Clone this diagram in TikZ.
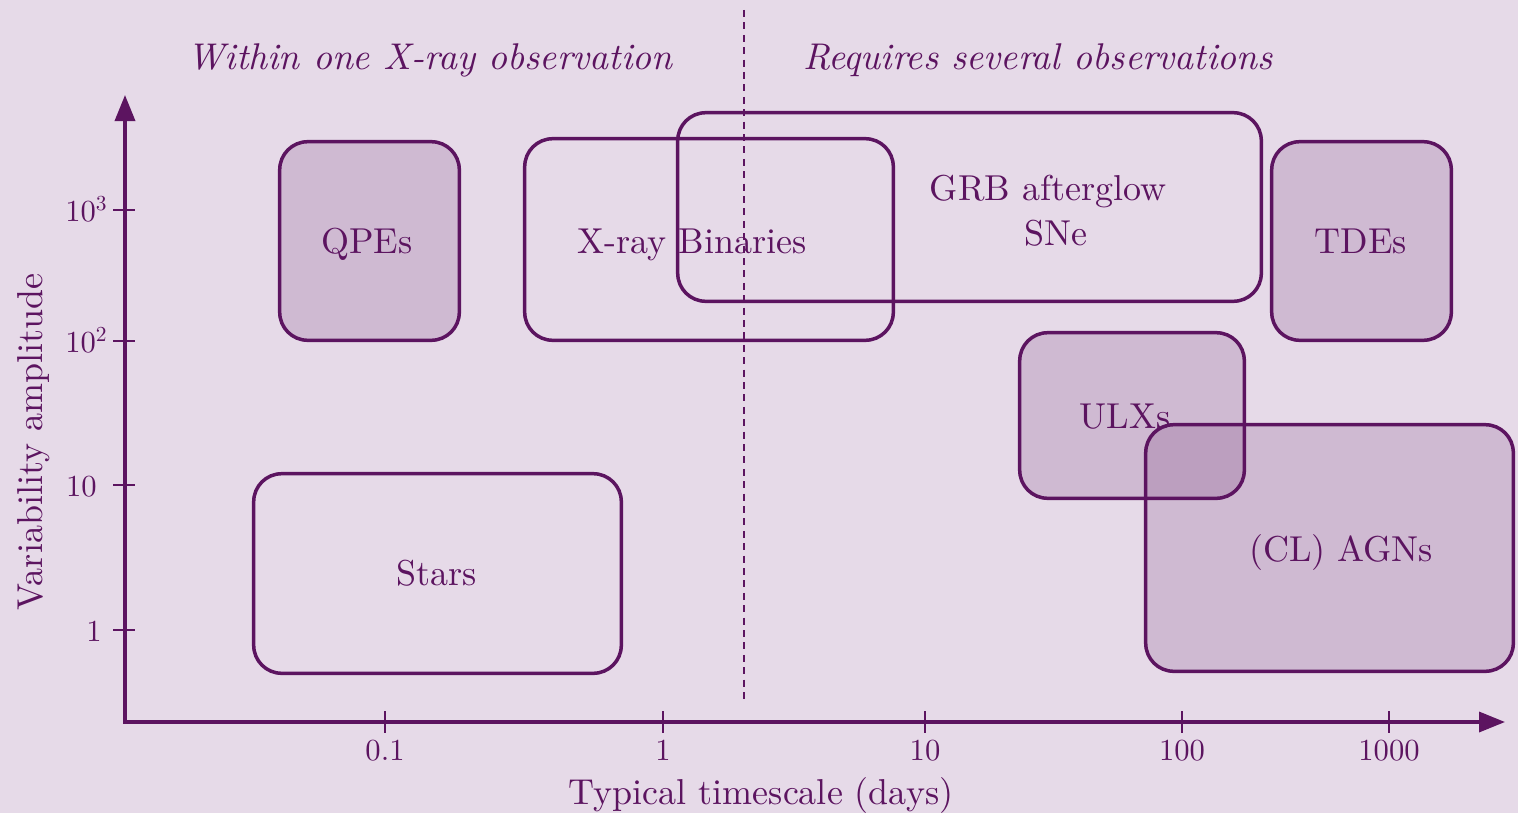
\documentclass[tikz,border=0pt]{standalone}
\usepackage{fontspec}
\setmainfont{lmroman10}[Extension=.otf, UprightFont=*-regular, ItalicFont=*-italic, BoldFont=*-bold, BoldItalicFont=*-bolditalic]
\usetikzlibrary{arrows.meta}
\definecolor{pc}{RGB}{92,20,96}
\definecolor{bgc}{RGB}{230,218,232}
\begin{document}
\begin{tikzpicture}[x=0.5pt,y=-0.5pt,
  every node/.style={text=pc},
  bigfont/.style={font=\fontsize{18}{21}\selectfont},
  region/.style={rectangle, draw=pc, line width=1.75pt, rounded corners=14pt, inner sep=0pt},
  shaded/.style={region, fill=pc, fill opacity=0.16},
  lab/.style={bigfont, anchor=base, inner sep=0pt},
  hdr/.style={font=\fontsize{18.6}{22}\selectfont\itshape, anchor=base, inner sep=0pt},
  axisline/.style={draw=pc, line width=1.75pt, line join=miter,
    {Triangle[length=13pt,width=10pt]}-{Triangle[length=13pt,width=10pt]}},
  tickline/.style={draw=pc, line width=0.85pt},
  ticklab/.style={font=\fontsize{15.3}{18}\selectfont, inner sep=0pt},
  divider/.style={draw=pc, line width=0.8pt, dash pattern=on 3.5pt off 2.7pt}
]
\useasboundingbox[fill=bgc] (0,0) rectangle (1518,813);

% headers and divider
\coordinate (dtop) at (744,10);
\coordinate (dbot) at (744,703);
\draw[divider] (dtop) -- (dbot);
\node[hdr] (hdrL) at (430,69) {Within one X-ray observation};
\node[hdr] (hdrR) at (1038,69) {Requires several observations};

% axes
\coordinate (ytip) at (125,95);
\coordinate (orig) at (125,722);
\coordinate (xtip) at (1505,722);
\draw[axisline] (ytip) -- (orig) -- (xtip);

% x ticks
\foreach \xx/\lbl/\nm in {385/0.1/a, 663/1/b, 925/10/c, 1182/100/d, 1389/1000/e}{
  \coordinate (xt\nm a) at (\xx,711);
  \coordinate (xt\nm b) at (\xx,733);
  \draw[tickline] (xt\nm a) -- (xt\nm b);
  \node[ticklab, anchor=base] (xl\nm) at (\xx,760) {\lbl};
}
% y ticks
\foreach \yy/\nm in {210/a, 341/b, 485/c, 630/d}{
  \coordinate (yt\nm a) at (113,\yy);
  \coordinate (yt\nm b) at (135,\yy);
  \draw[tickline] (yt\nm a) -- (yt\nm b);
}
\node[ticklab, anchor=base east] (yla) at (108,221) {10\textsuperscript{3}};
\node[ticklab, anchor=base east] (ylb) at (108,352) {10\textsuperscript{2}};
\node[ticklab, anchor=base east] (ylc) at (97,496) {10};
\node[ticklab, anchor=base east] (yld) at (102,641) {1};

% axis titles
\node[lab] (xtitle) at (761,804) {Typical timescale (days)};
\node[lab, rotate=90] (ytitle) at (42,442) {Variability amplitude};

% regions
\node[shaded, minimum width=89.8pt, minimum height=99.3pt] (qpeBox) at (369.5,241) {};
\node[lab] (qpeLab) at (367,253) {QPEs};

\node[region, minimum width=291.8pt, minimum height=94.3pt] (grbBox) at (969.5,207) {};
\node[region, minimum width=184.3pt, minimum height=100.8pt] (xrbBox) at (709,239.5) {};
\node[lab] (xrbLab) at (692,253) {X-ray Binaries};
\node[lab] (grbLab) at (1048,200) {GRB afterglow};
\node[lab] (sneLab) at (1056,245) {SNe};

\node[shaded, minimum width=89.8pt, minimum height=99.3pt] (tdeBox) at (1361.5,241) {};
\node[lab] (tdeLab) at (1361,253) {TDEs};

\node[region, minimum width=183.8pt, minimum height=99.8pt] (starBox) at (437.5,573.5) {};
\node[lab] (starLab) at (437,585) {Stars};

\node[shaded, minimum width=112.3pt, minimum height=82.8pt] (ulxBox) at (1132,415.5) {};
\node[lab] (ulxLab) at (1125,428) {ULXs};

\node[shaded, minimum width=183.8pt, minimum height=123.3pt] (agnBox) at (1329.5,548) {};
\node[lab] (agnLab) at (1341,561) {(CL) AGNs};
\end{tikzpicture}
\end{document}
